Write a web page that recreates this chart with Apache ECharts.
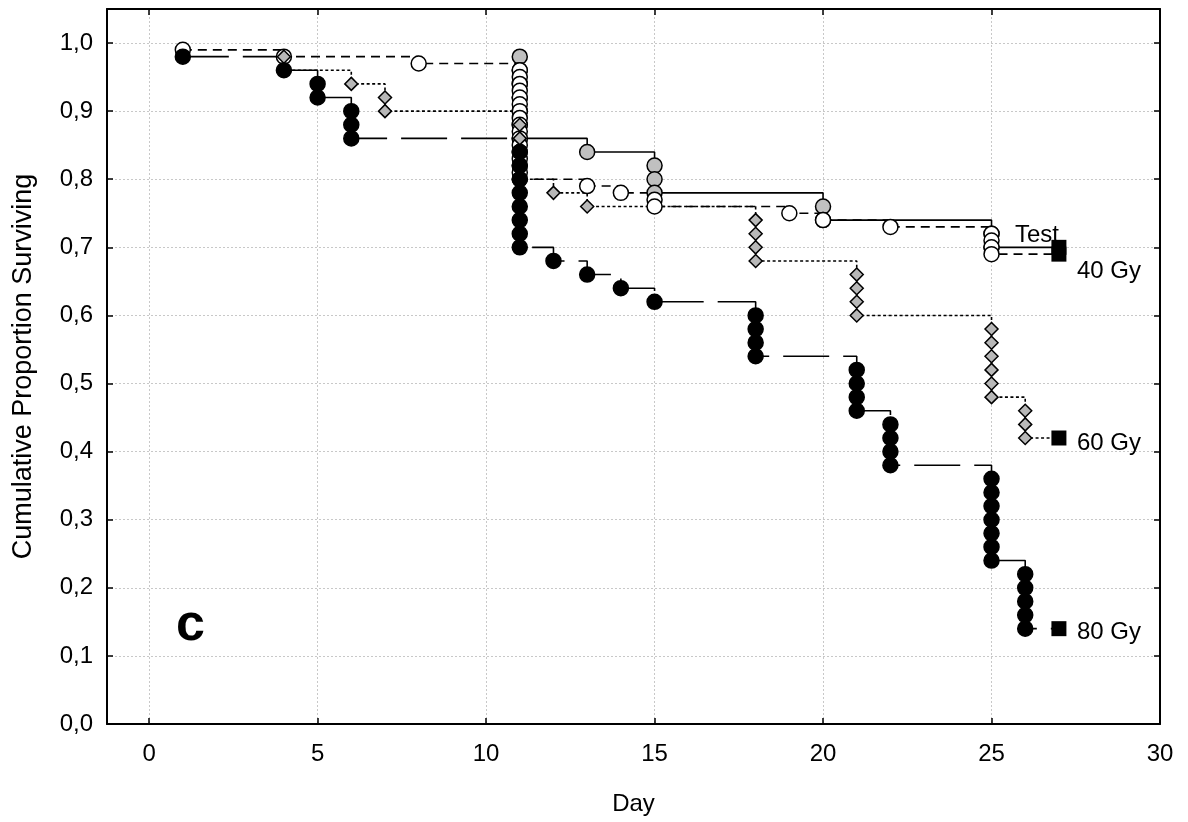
<!DOCTYPE html>
<html><head><meta charset="utf-8">
<script src="https://cdn.jsdelivr.net/npm/echarts@6/dist/echarts.min.js"></script>
<style>html,body{margin:0;padding:0;background:#fff}#c{width:1188px;height:822px}</style>
</head><body><div id="c"></div>
<script>
// ---- data ----
const groupNames = ['Test', '40 Gy', '60 Gy', '80 Gy'];

const testDays = [11, 11, 11, 11, 11, 11, 11, 13, 15, 15, 15, 20, 20, 25, 25];
const testSurv = [0.98, 0.96, 0.94, 0.92, 0.90, 0.88, 0.86, 0.84, 0.82, 0.80, 0.78, 0.76, 0.74, 0.72, 0.70];

const gy40Days = [1, 4, 8, 11, 11, 11, 11, 11, 11, 11, 11, 11, 11, 11, 11, 11, 11, 11, 11, 11, 13, 14, 15, 15, 19, 20, 22, 25, 25, 25, 25];
const gy40Surv = [0.99, 0.98, 0.97, 0.96, 0.95, 0.94, 0.93, 0.92, 0.91, 0.90, 0.89, 0.88, 0.87, 0.86, 0.85, 0.84, 0.83, 0.82, 0.81, 0.80, 0.79, 0.78, 0.77, 0.76, 0.75, 0.74, 0.73, 0.72, 0.71, 0.70, 0.69];

const gy60Days = [4, 4, 6, 7, 7, 11, 11, 11, 11, 11, 12, 13, 18, 18, 18, 18, 21, 21, 21, 21, 25, 25, 25, 25, 25, 25, 26, 26, 26];
const gy60Surv = [0.98, 0.96, 0.94, 0.92, 0.90, 0.88, 0.86, 0.84, 0.82, 0.80, 0.78, 0.76, 0.74, 0.72, 0.70, 0.68, 0.66, 0.64, 0.62, 0.60, 0.58, 0.56, 0.54, 0.52, 0.50, 0.48, 0.46, 0.44, 0.42];

const gy80Days = [1, 4, 5, 5, 6, 6, 6, 11, 11, 11, 11, 11, 11, 11, 11, 12, 13, 14, 15, 18, 18, 18, 18, 21, 21, 21, 21, 22, 22, 22, 22, 25, 25, 25, 25, 25, 25, 25, 26, 26, 26, 26, 26];
const gy80Surv = [0.98, 0.96, 0.94, 0.92, 0.90, 0.88, 0.86, 0.84, 0.82, 0.80, 0.78, 0.76, 0.74, 0.72, 0.70, 0.68, 0.66, 0.64, 0.62, 0.60, 0.58, 0.56, 0.54, 0.52, 0.50, 0.48, 0.46, 0.44, 0.42, 0.40, 0.38, 0.36, 0.34, 0.32, 0.30, 0.28, 0.26, 0.24, 0.22, 0.20, 0.18, 0.16, 0.14];

const censorDay = 27;
const xTickStep = 5;
const panelLetter = 'c';

// ---- styles ----
const FONT = "'Liberation Sans', Arial, sans-serif";
const styles = [
  { fill: '#c0c0c0', symbol: 'circle', size: 15, dash: 'solid', label: { offset: [-22, -12], align: 'center' } },
  { fill: '#ffffff', symbol: 'circle', size: 15, dash: [9, 6], label: { offset: [18, 17], align: 'left' } },
  { fill: '#b8b8b8', symbol: 'diamond', size: 13, dash: [3, 2.5], label: { offset: [18, 5], align: 'left' } },
  { fill: '#000000', symbol: 'circle', size: 15, dash: [46, 14], label: { offset: [18, 4], align: 'left' } }
];

const groups = [
  [testDays, testSurv], [gy40Days, gy40Surv], [gy60Days, gy60Surv], [gy80Days, gy80Surv]
];

const series = [];
groups.forEach(([d, s], i) => {
  const pts = d.map((x, k) => [x, s[k]]);
  const linePts = pts.concat([[censorDay, s[s.length - 1]]]);
  series.push({
    type: 'line', name: groupNames[i] + ' line', data: linePts, step: 'end',
    showSymbol: false, symbol: 'none', silent: true, z: 2,
    lineStyle: { color: '#000', width: 1.6, type: styles[i].dash },
    animation: false
  });
});
groups.forEach(([d, s], i) => {
  series.push({
    type: 'scatter', name: groupNames[i], data: d.map((x, k) => [x, s[k]]),
    symbol: styles[i].symbol, symbolSize: styles[i].size, z: 3 + i,
    itemStyle: { color: styles[i].fill, borderColor: '#000', borderWidth: 1.5, opacity: 1 },
    animation: false
  });
});
// censored end markers with group labels
series.push({
  type: 'scatter', name: 'censored',
  data: groups.map(([d, s], i) => ({
    value: [censorDay, s[s.length - 1]], name: groupNames[i],
    label: { show: true, formatter: groupNames[i], position: 'inside', offset: styles[i].label.offset, align: styles[i].label.align,
      color: '#000', fontFamily: FONT, fontSize: 24 }
  })),
  symbol: 'rect', symbolSize: 15, z: 10,
  itemStyle: { color: '#000', opacity: 1 },
  animation: false
});

const fmtY = v => (Math.abs(Math.round(v * 10) - v * 10) < 1e-6) ? v.toFixed(1).replace('.', ',') : '';
const fmtX = v => (Math.abs(v % xTickStep) < 1e-6) ? String(v) : '';

const axisCommon = {
  axisLine: { show: true, onZero: false, lineStyle: { color: '#000', width: 2 } },
  axisTick: { show: true, inside: true, length: 6, lineStyle: { color: '#000', width: 1.5 } }
};

const option = {
  backgroundColor: '#fff',
  animation: false,
  grid: { left: 107, right: 28, top: 9, bottom: 98 },
  xAxis: [
    Object.assign({
      type: 'value', min: -1.25, max: 30, splitNumber: 6, position: 'bottom',
      name: 'Day', nameLocation: 'middle', nameGap: 68,
      nameTextStyle: { color: '#000', fontFamily: FONT, fontSize: 24 },
      axisLabel: { color: '#000', fontFamily: FONT, fontSize: 24, margin: 18, formatter: fmtX, showMinLabel: false },
      splitLine: { show: true, lineStyle: { color: '#c8c8c8', type: [2, 2], width: 1 } }
    }, axisCommon),
    Object.assign({
      type: 'value', min: -1.25, max: 30, splitNumber: 6, position: 'top',
      axisLabel: { show: false }, splitLine: { show: false }
    }, axisCommon)
  ],
  yAxis: [
    Object.assign({
      type: 'value', min: 0, max: 1.05, splitNumber: 10, position: 'left',
      name: 'Cumulative Proportion Surviving', nameLocation: 'middle', nameGap: 70,
      nameTextStyle: { color: '#000', fontFamily: FONT, fontSize: 27 },
      axisLabel: { color: '#000', fontFamily: FONT, fontSize: 24, margin: 14, formatter: fmtY, showMaxLabel: false },
      splitLine: { show: true, lineStyle: { color: '#c8c8c8', type: [2, 2], width: 1 } }
    }, axisCommon),
    Object.assign({
      type: 'value', min: 0, max: 1.05, splitNumber: 10, position: 'right',
      axisLabel: { show: false }, splitLine: { show: false }
    }, axisCommon)
  ],
  graphic: [{
    type: 'text', left: 176, top: 600, z: 20,
    style: { text: panelLetter, font: "bold 52px 'Liberation Sans', Arial, sans-serif", fill: '#000' }
  }],
  series: series
};

const chart = echarts.init(document.getElementById('c'), null, { renderer: 'canvas' });
chart.setOption(option);
</script>
</body></html>
